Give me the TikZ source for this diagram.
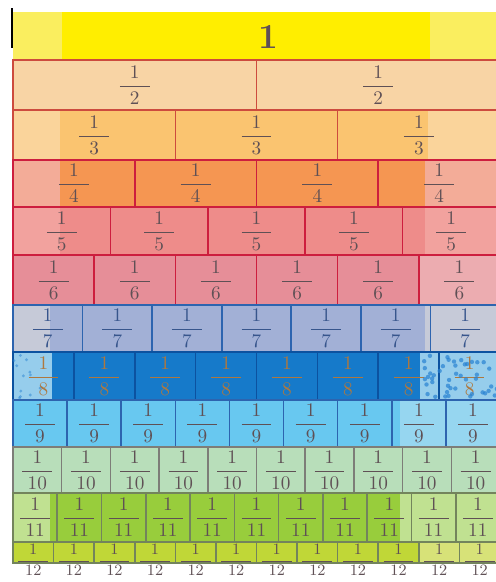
\documentclass[tikz,border=0pt]{standalone}
\usepackage{xcolor}
\usepackage{tikz}
\usetikzlibrary{positioning, calc}
\definecolor{oneyel}{RGB}{255,238,0}
\definecolor{oneyelL}{RGB}{250,238,95}
\definecolor{halfL}{RGB}{248,212,165}
\definecolor{thirdS}{RGB}{250,196,112}
\definecolor{thirdL}{RGB}{250,212,155}
\definecolor{quartS}{RGB}{245,150,82}
\definecolor{quartL}{RGB}{243,172,152}
\definecolor{fifthS}{RGB}{238,140,138}
\definecolor{fifthL}{RGB}{242,162,158}
\definecolor{sixthS}{RGB}{230,142,152}
\definecolor{sixthL}{RGB}{236,172,176}
\definecolor{sevS}{RGB}{162,176,214}
\definecolor{sevL}{RGB}{198,202,216}
\definecolor{eightS}{RGB}{22,122,202}
\definecolor{eightL}{RGB}{150,205,236}
\definecolor{nineS}{RGB}{104,200,240}
\definecolor{nineL}{RGB}{150,214,240}
\definecolor{tenS}{RGB}{184,222,186}
\definecolor{elevS}{RGB}{152,205,60}
\definecolor{elevL}{RGB}{192,225,145}
\definecolor{twelS}{RGB}{192,215,55}
\definecolor{twelL}{RGB}{215,226,120}
\definecolor{crimson}{RGB}{205,30,62}
\definecolor{brickred}{RGB}{205,75,62}
\definecolor{brickblue}{RGB}{45,100,175}
\definecolor{deepblue}{RGB}{12,82,160}
\definecolor{greyline}{RGB}{125,125,120}
\definecolor{greengrey}{RGB}{115,132,92}
\definecolor{labelgrey}{RGB}{95,80,85}
\definecolor{labelblue}{RGB}{55,85,140}
\definecolor{labelorange}{RGB}{175,120,62}
\definecolor{speck}{RGB}{40,130,210}

\newcommand{\fw}[1]{$\displaystyle\frac{1}{\makebox[17pt]{$#1$}}$}

\begin{document}
\begin{tikzpicture}[x=0.02cm, y=-0.02cm,
  brick/.style={draw=#1, line width=0.9pt},
  frac/.style={font=\fontsize{#1}{12}\selectfont, inner sep=0pt},
]
  \useasboundingbox (0,0) rectangle (496,582);
  \begin{scope}
    \clip (0,0) rectangle (496,582);

    % whole
    \fill[oneyelL] (13,12) rectangle (500,60);
    \fill[oneyel]  (62,12) rectangle (430,60);
    \node[font=\fontsize{20}{24}\selectfont\bfseries, text=labelgrey] (whole) at (268,37) {1};
    \draw[black, line width=0.6pt] (12,8) -- (12,48);

    % rows of unit fractions
    \foreach \n/\ya/\yb/\yl/\fs/\lt/\st/\xa/\xb/\ln/\tx in {
      2/60/110/85/10.5/halfL/halfL/13/500/brickred/labelgrey,
      3/110/160/135/10.5/thirdL/thirdS/60/428/brickred/labelgrey,
      4/160/207/183/10.5/quartL/quartS/60/425/crimson/labelgrey,
      5/207/255/231/10.5/fifthL/fifthS/60/425/crimson/labelgrey,
      6/255/305/280/10.5/sixthL/sixthS/13/420/crimson/labelgrey,
      7/305/352/328/10.5/sevL/sevS/50/425/brickblue/labelblue,
      8/352/400/376/10.5/eightL/eightS/52/420/deepblue/labelorange,
      9/400/447/423/10.5/nineL/nineS/13/400/brickblue/labelgrey,
      10/447/493/470/10.5/tenS/tenS/13/500/greyline/labelgrey,
      11/493/542/517/10.5/elevL/elevS/50/400/greengrey/labelgrey,
      12/542/563/560/9/twelL/twelS/13/420/greengrey/labelgrey} {
      \fill[\lt] (13,\ya) rectangle (500,\yb);
      \fill[\st] (\xa,\ya) rectangle (\xb,\yb);
      \foreach \k in {1,...,\n} {
        \pgfmathsetmacro\xl{13+487*(\k-1)/\n}
        \pgfmathsetmacro\xr{13+487*\k/\n}
        \draw[brick=\ln] (\xl,\ya) rectangle (\xr,\yb);
        \node[frac=\fs, text=\tx] (f\n-\k) at ({(\xl+\xr)/2},\yl) {\fw{\n}};
      }
    }

    % speckled ends of the eighths
    \pgfmathsetseed{7}
    \foreach \i in {1,...,45} {
      \fill[speck, opacity=0.7] ({422+rnd*76},{355+rnd*43}) circle (2.2);
    }
    \foreach \i in {1,...,12} {
      \fill[speck, opacity=0.5] ({14+rnd*36},{355+rnd*43}) circle (1.6);
    }
  \end{scope}
\end{tikzpicture}
\end{document}
